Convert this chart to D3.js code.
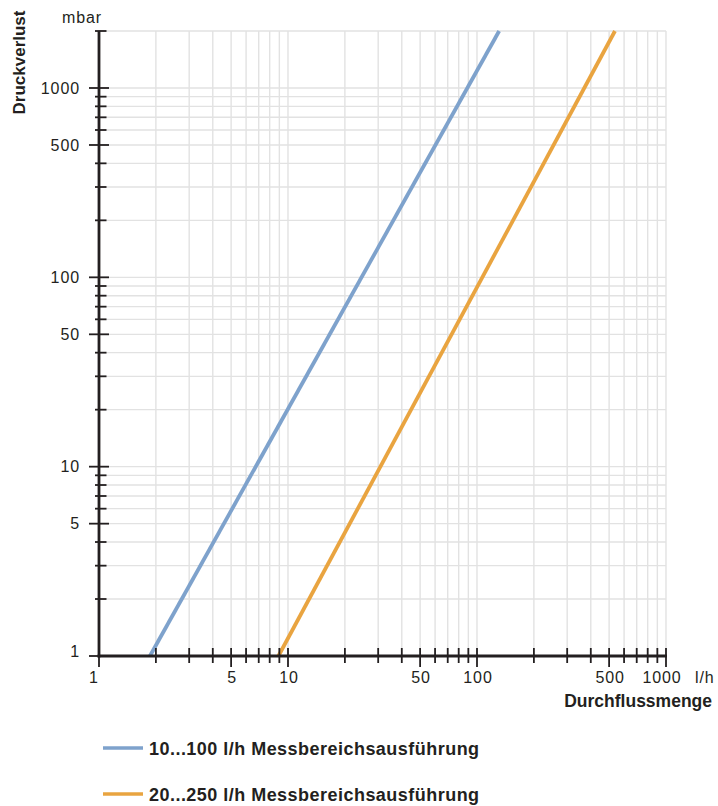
<!DOCTYPE html>
<html><head><meta charset="utf-8">
<script src="https://cdn.jsdelivr.net/npm/d3@7"></script>
<style>
body{margin:0;background:#fff;}
text{font-family:"Liberation Sans",Arial,Helvetica,sans-serif;fill:#231f20;}
</style></head>
<body><svg id="c" width="718" height="806"></svg>
<script>
// ---- data ----
const seriesNames = ["10...100 l/h Messbereichsausführung", "20...250 l/h Messbereichsausführung"];
const seriesColors = ["#7ea2cc", "#e9a440"];
const blueFlow = [1.86, 131];      // l/h
const bluePressure = [1, 2000];    // mbar
const orangeFlow = [8.9, 537];
const orangePressure = [1, 2000];
const xTickLabels = [1, 5, 10, 50, 100, 500, 1000];
const yTickLabels = [1, 5, 10, 50, 100, 500, 1000];
const xDomain = [1, 1000];
const yDomain = [1, 2000];

const svg = d3.select("#c");
const x = d3.scaleLog().domain(xDomain).range([99, 666]);
const y = d3.scaleLog().domain(yDomain).range([656, 31]);
const ink = "#231f20", grid = "#e2e2e2";

// grid
const xt = x.ticks(), yt = y.ticks();
svg.append("g").selectAll("line").data(xt.filter(d=>d>1)).join("line")
  .attr("x1",d=>x(d)).attr("x2",d=>x(d)).attr("y1",y(yDomain[1])).attr("y2",y(1))
  .attr("stroke",grid).attr("stroke-width",1.4);
svg.append("g").selectAll("line").data(yt.filter(d=>d>1)).join("line")
  .attr("y1",d=>y(d)).attr("y2",d=>y(d)).attr("x1",x(1)).attr("x2",x(xDomain[1]))
  .attr("stroke",grid).attr("stroke-width",1.4);

// series
const line = d3.line().x(d=>x(d[0])).y(d=>y(d[1]));
const series = [d3.zip(blueFlow, bluePressure), d3.zip(orangeFlow, orangePressure)];
svg.append("g").selectAll("path").data(series).join("path")
  .attr("d",line).attr("fill","none").attr("stroke",(d,i)=>seriesColors[i])
  .attr("stroke-width",3.8);

// axes
svg.append("line").attr("x1",x(1)).attr("x2",x(1)).attr("y1",y(yDomain[1])).attr("y2",y(1)+1.5)
  .attr("stroke",ink).attr("stroke-width",2.8);
svg.append("line").attr("x1",x(1)-1.4).attr("x2",x(xDomain[1])+1).attr("y1",y(1)).attr("y2",y(1))
  .attr("stroke",ink).attr("stroke-width",2.8);

// y ticks
svg.append("g").selectAll("line").data(yt).join("line")
  .attr("y1",d=>y(d)).attr("y2",d=>y(d))
  .attr("x1",d=>yTickLabels.includes(d)? x(1)-10 : x(1)-4)
  .attr("x2",d=>yTickLabels.includes(d)? x(1)+10 : x(1)+7.5)
  .attr("stroke",ink).attr("stroke-width",1.8);
svg.append("g").selectAll("text").data(yTickLabels).join("text")
  .attr("x",80).attr("y",d=>y(d)+5.8 - (d===1?5:0)).attr("text-anchor","end")
  .attr("font-size",16).attr("letter-spacing",0.9).text(d=>d);

// x ticks
svg.append("g").selectAll("line").data(xt).join("line")
  .attr("x1",d=>x(d)).attr("x2",d=>x(d))
  .attr("y1",y(1)-8)
  .attr("y2",d=>xTickLabels.includes(d)? y(1)+11 : y(1)+7)
  .attr("stroke",ink).attr("stroke-width",1.8);
svg.append("g").selectAll("text").data(xTickLabels).join("text")
  .attr("x",d=>x(d) + (d===1?-5:(d===1000?-4:1))).attr("y",683).attr("text-anchor","middle")
  .attr("font-size",16).attr("letter-spacing",0.9).text(d=>d);

// units & titles
svg.append("text").attr("x",695).attr("y",683).attr("font-size",16).attr("letter-spacing",0.9).text("l/h");
svg.append("text").attr("x",62).attr("y",22.5).attr("font-size",16).attr("letter-spacing",0.9).text("mbar");
svg.append("text").attr("transform","translate(25,62.5) rotate(-90)").attr("text-anchor","middle")
  .attr("font-size",17).attr("font-weight","bold").text("Druckverlust");
svg.append("text").attr("x",712).attr("y",707).attr("text-anchor","end")
  .attr("font-size",17.5).attr("font-weight","bold").text("Durchflussmenge");

// legend
const lg = svg.append("g").selectAll("g").data(seriesNames).join("g")
  .attr("transform",(d,i)=>`translate(0,${748 + i*46})`);
lg.append("line").attr("x1",103).attr("x2",143).attr("y1",0).attr("y2",0)
  .attr("stroke",(d,i)=>seriesColors[i]).attr("stroke-width",3.4);
lg.append("text").attr("x",149).attr("y",6.5).attr("font-size",18).attr("font-weight","bold")
  .attr("letter-spacing",0.47).text(d=>d);
</script></body></html>
